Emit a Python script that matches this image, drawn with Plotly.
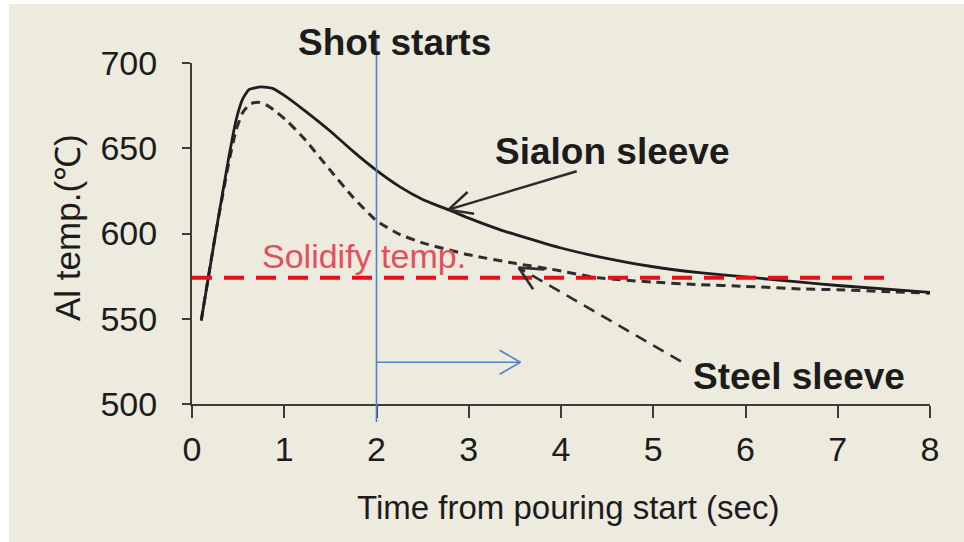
import math
import plotly.graph_objects as go

# Time axis (s) and aluminium temperature (°C) for both sleeve materials
time_sialon = [0.1, 0.25, 0.4, 0.48, 0.55, 0.62, 0.75, 0.88, 1.0, 1.2, 1.5, 1.75, 2.0, 2.25,
               2.5, 2.8, 3.0, 3.35, 3.5, 4.0, 4.4, 5.0, 5.5, 6.0, 6.6, 7.0, 7.5, 8.0]
temp_sialon = [549, 598, 645, 667, 679, 684.5, 686, 685, 681, 673, 660, 648, 637, 627.5,
               620, 613.5, 609, 602, 599.5, 591.5, 586.5, 580.5, 577, 574.5, 571.5, 569.5, 567.5, 565.5]

time_steel = [0.1, 0.25, 0.4, 0.48, 0.55, 0.63, 0.72, 0.82, 0.92, 1.03, 1.21, 1.5, 1.75, 2.0,
              2.25, 2.5, 3.0, 3.5, 3.9, 4.4, 5.0, 5.5, 6.0, 6.6, 7.0, 7.5, 8.0]
temp_steel = [549, 598, 642, 661, 671, 676, 677, 675, 671, 666, 656, 637, 621, 607.5,
              599.5, 594.5, 587.5, 582.5, 579, 574, 571.5, 570, 569, 567.5, 567, 566, 565]

# Reference levels
solidify_temp = 574
solidify_span = [0, 7.6]
shot_start = 2.0

x_ticks = [0, 1, 2, 3, 4, 5, 6, 7, 8]
y_ticks = [500, 550, 600, 650, 700]
x_range = [0, 8]
y_range = [500, 700]

FONT = "Liberation Sans, Arial, sans-serif"
BG = "rgb(237,234,222)"
INK = "#2b2b2b"
BLUE = "rgb(84,130,200)"

W, H = 964, 542
M = dict(l=192, r=34, t=63, b=138)
PW = W - M["l"] - M["r"]
PH = H - M["t"] - M["b"]
SX = PW / (x_range[1] - x_range[0])   # px per second
SY = PH / (y_range[1] - y_range[0])   # px per degree


def px_to_paper_x(px):
    return (px - M["l"]) / PW


def px_to_paper_y(py):
    return (H - M["b"] - py) / PH


def arrow_shapes(x0, y0, x1, y1, color, width, dash="solid", head=24, spread=math.radians(28)):
    """Line from (x0, y0) to (x1, y1) with an open V head at the tip."""
    shapes = [dict(type="line", xref="x", yref="y", x0=x0, y0=y0, x1=x1, y1=y1,
                   line=dict(color=color, width=width, dash=dash))]
    ang = math.atan2((y1 - y0) * SY, (x1 - x0) * SX)
    for s in (1, -1):
        a = ang + math.pi + s * spread
        hx = x1 + head * math.cos(a) / SX
        hy = y1 + head * math.sin(a) / SY
        shapes.append(dict(type="line", xref="x", yref="y", x0=x1, y0=y1, x1=hx, y1=hy,
                           line=dict(color=color, width=width)))
    return shapes


fig = go.Figure()

fig.add_trace(go.Scatter(
    x=time_steel, y=temp_steel, mode="lines", name="Steel sleeve",
    line=dict(color="#2e2e2e", width=3, dash="9px,6px", shape="spline", smoothing=0.5),
))
fig.add_trace(go.Scatter(
    x=time_sialon, y=temp_sialon, mode="lines", name="Sialon sleeve",
    line=dict(color="#1e1e1e", width=2.8, shape="spline", smoothing=0.5),
))
fig.add_trace(go.Scatter(
    x=solidify_span, y=[solidify_temp, solidify_temp], mode="lines", name="Solidify temp.",
    line=dict(color="rgb(232,16,24)", width=4, dash="20px,12px"),
))

shapes = []
# Page background with a thin white margin on the top and left edges
shapes.append(dict(type="rect", xref="paper", yref="paper", layer="below",
                   x0=px_to_paper_x(9), x1=px_to_paper_x(W + 20),
                   y0=px_to_paper_y(H + 20), y1=px_to_paper_y(4),
                   fillcolor=BG, line=dict(width=0)))
# Shot start marker
shapes.append(dict(type="line", xref="x", yref="paper",
                   x0=shot_start, x1=shot_start,
                   y0=px_to_paper_y(422), y1=px_to_paper_y(35),
                   line=dict(color=BLUE, width=1.6)))
# Arrow pointing forward in time after the shot starts
shapes += arrow_shapes(shot_start, 524.5, 3.56, 524.5, BLUE, 1.6, head=24, spread=math.radians(30))
# Leader to the Sialon curve
shapes += arrow_shapes(4.17, 636.5, 2.78, 614, INK, 2.5, head=26, spread=math.radians(26))
# Dashed leader to the steel curve
shapes += arrow_shapes(5.3, 525, 3.54, 580, "#2e2e2e", 2.6, dash="12px,8px", head=26,
                       spread=math.radians(26))

annotations = [
    dict(text="Shot starts", x=2.19, y=px_to_paper_y(42), xref="x", yref="paper",
         showarrow=False, font=dict(family=FONT, size=37, color="#1c1c1c", weight="bold"),
         xanchor="center", yanchor="middle"),
    dict(text="Sialon sleeve", x=4.55, y=648, xref="x", yref="y",
         showarrow=False, font=dict(family=FONT, size=37, color="#1c1c1c", weight="bold"),
         xanchor="center", yanchor="middle"),
    dict(text="Steel sleeve", x=6.58, y=516, xref="x", yref="y",
         showarrow=False, font=dict(family=FONT, size=37, color="#1c1c1c", weight="bold"),
         xanchor="center", yanchor="middle"),
    dict(text="Solidify temp.", x=1.86, y=587, xref="x", yref="y",
         showarrow=False, font=dict(family=FONT, size=34, color="rgb(226,80,96)"),
         xanchor="center", yanchor="middle"),
    dict(text="Time from pouring start (sec)", x=px_to_paper_x(568), y=px_to_paper_y(507),
         xref="paper", yref="paper", showarrow=False,
         font=dict(family=FONT, size=33, color="#1c1c1c"), xanchor="center", yanchor="middle"),
    dict(text="Al temp.(℃)", x=px_to_paper_x(67), y=px_to_paper_y(228),
         xref="paper", yref="paper", showarrow=False, textangle=-90,
         font=dict(family=FONT, size=35, color="#1c1c1c"), xanchor="center", yanchor="middle"),
]

axis_common = dict(
    showgrid=False, zeroline=False, showline=True, linecolor="#3c3c3c", linewidth=2,
    ticks="outside", tickcolor="#3c3c3c", tickwidth=2,
    tickfont=dict(family=FONT, size=34, color="#1c1c1c"),
)

fig.update_layout(
    width=W, height=H, margin=M,
    paper_bgcolor="white", plot_bgcolor="rgba(0,0,0,0)",
    showlegend=False,
    shapes=shapes, annotations=annotations,
    xaxis=dict(range=x_range, tickvals=x_ticks, ticklen=12, ticklabelstandoff=2, **axis_common),
    yaxis=dict(range=y_range, tickvals=y_ticks, ticklen=8, ticklabelstandoff=18, **axis_common),
)

fig.write_html("out.html")
